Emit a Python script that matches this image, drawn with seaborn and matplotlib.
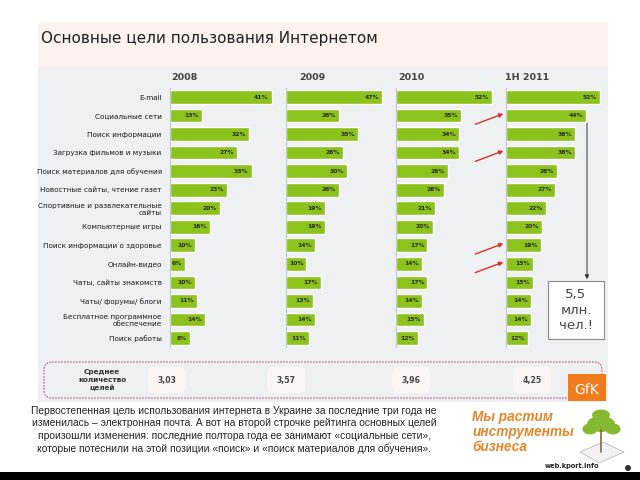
import numpy as np
import pandas as pd
import seaborn as sns
import matplotlib.pyplot as plt
from matplotlib.patches import FancyBboxPatch, Rectangle, Ellipse, Polygon

# data
categories = ['E-mail', 'Социальные сети', 'Поиск информации', 'Загрузка фильмов и музыки',
              'Поиск материалов для обучения', 'Новостные сайты, чтение газет',
              'Спортивные и развлекательные\nсайты', 'Компьютерные игры',
              'Поиск информации о здоровье', 'Онлайн-видео', 'Чаты, сайты знакомств',
              'Чаты/ форумы/ блоги', 'Бесплатное программное\nобеспечение', 'Поиск работы']
years = ['2008', '2009', '2010', '1H 2011']
share_2008 = [41, 13, 32, 27, 33, 23, 20, 16, 10, 6, 10, 11, 14, 8]
share_2009 = [47, 26, 35, 28, 30, 26, 19, 19, 14, 10, 17, 13, 14, 11]
share_2010 = [52, 35, 34, 34, 28, 26, 21, 20, 17, 14, 17, 14, 15, 12]
share_2011 = [52, 44, 38, 38, 28, 27, 22, 20, 19, 15, 15, 14, 14, 12]
avg_goals = ['3,03', '3,57', '3,96', '4,25']
arrow_rows = [1, 3, 8, 9]   # rows that moved up in 1H 2011

df = pd.DataFrame({
    'goal': categories * 4,
    'year': np.repeat(years, len(categories)),
    'share': share_2008 + share_2009 + share_2010 + share_2011,
})

sns.set_style('white')
plt.rcParams['font.family'] = ['DejaVu Sans']

green = '#8cc21c'
W, H = 640, 480

fig = plt.figure(figsize=(6.4, 4.8), dpi=100)
fig.patch.set_facecolor('white')

# background / decoration layer in pixel coords
bg = fig.add_axes([0, 0, 1, 1])
bg.set_xlim(0, W)
bg.set_ylim(H, 0)
bg.axis('off')

bg.add_patch(Rectangle((38, 22), 570, 46, color='#fcf3ef', lw=0))
bg.add_patch(Rectangle((38, 66), 570, 336, color='#eef0f1', lw=0))
bg.text(41, 38, 'Основные цели пользования Интернетом', fontsize=11, color='#222',
        va='center', ha='left')

# panels
row_top, row_step = 97, 18.54
ax_top = row_top - 0.5 * row_step
ax_h = 14 * row_step
lefts = [170, 286, 396, 506]
widths = [110, 104, 104, 102]
year_x = [184, 312, 411, 527]

axes = []
for k, yr in enumerate(years):
    sub = df[df['year'] == yr]
    ax = fig.add_axes([lefts[k] / W, 1 - (ax_top + ax_h) / H, widths[k] / W, ax_h / H])
    ax.patch.set_alpha(0)
    sns.barplot(data=sub, x='share', y='goal', color=green, width=0.74,
                saturation=1, ax=ax, orient='h')
    xmax = sub['share'].max() * 1.08
    ax.set_xlim(0, xmax)
    ax.set_ylim(len(categories) - 0.5, -0.5)
    for i, v in enumerate(sub['share']):
        ax.text(v - xmax * 0.03, i, f'{v}%', ha='right', va='center',
                fontsize=4.3, fontweight='bold', color='#2a2a2a')
    for s in ['top', 'right', 'bottom']:
        ax.spines[s].set_visible(False)
    ax.spines['left'].set_color('#c5c8ca')
    ax.spines['left'].set_linewidth(0.8)
    ax.set_xticks([])
    ax.set_xlabel('')
    ax.set_ylabel('')
    if k == 0:
        ax.tick_params(axis='y', length=0, pad=6, labelsize=5.2, labelcolor='#1a1a1a')
    else:
        ax.set_yticks([])
    bg.text(year_x[k], 78, yr, fontsize=6.8, fontweight='bold', color='#444',
            ha='center', va='center')
    axes.append(ax)

# red arrows pointing to the rows that moved up
ax11 = axes[3]
for r in arrow_rows:
    ax11.annotate('', xy=(0, r - 0.15), xytext=(-24, -9), textcoords='offset points',
                  annotation_clip=False,
                  arrowprops=dict(arrowstyle='-|>', color='#d9302a', lw=1.0,
                                  mutation_scale=6))

# black arrow from social networks bar to the callout box
bg.annotate('', xy=(587, 282), xytext=(587, 120),
            arrowprops=dict(arrowstyle='-|>', color='#333', lw=0.7, mutation_scale=6))
bg.add_patch(Rectangle((548, 281), 56, 58, facecolor='white', edgecolor='#888', lw=0.8))
bg.text(576, 310, '5,5\nмлн.\nчел.!', fontsize=9.5, color='#444', ha='center',
        va='center', linespacing=1.25)

# average number of goals row
bg.add_patch(FancyBboxPatch((44, 362), 558, 36, boxstyle='round,pad=0,rounding_size=8',
                            facecolor='#eef0f1', edgecolor='#c0507a', lw=0.8, ls=(0, (1.5, 1.2))))
bg.text(102, 380, 'Среднее\nколичество\nцелей', fontsize=5.2, fontweight='bold',
        color='#333', ha='center', va='center', linespacing=1.3)
value_x = [167, 286, 411, 532]
for vx, val in zip(value_x, avg_goals):
    bg.add_patch(FancyBboxPatch((vx - 19, 367), 38, 26, boxstyle='round,pad=0,rounding_size=6',
                                facecolor='#fbf6f3', edgecolor='none'))
    bg.text(vx, 380, val, fontsize=5.6, fontweight='bold', color='#444',
            ha='center', va='center')

# GfK logo
bg.add_patch(Rectangle((568, 374), 38, 27, color='#f07c1b', lw=0))
bg.text(587, 390, 'GfK', fontsize=10, color='white', ha='center', va='center')

# caption
caption = ('Первостепенная цель использования интернета в Украине за последние три года не\n'
           'изменилась – электронная почта. А вот на второй строчке рейтинга основных целей\n'
           'произошли изменения: последние полтора года ее занимают «социальные сети»,\n'
           'которые потеснили на этой позиции «поиск» и «поиск материалов для обучения».')
bg.text(234, 406, caption, fontsize=7.4, family=['Liberation Sans', 'DejaVu Sans'],
        color='#222', ha='center', va='top', linespacing=1.3)

# kport logo
bg.text(472, 410, 'Мы растим\nинструменты\nбизнеса', fontsize=9.8, fontweight='bold',
        fontstyle='italic', family=['Liberation Sans', 'DejaVu Sans'], color='#e4862a',
        ha='left', va='top', linespacing=1.1)
bg.text(545, 466, 'web.kport.info', fontsize=4.8, fontweight='bold', color='#222',
        ha='left', va='center')
bg.add_patch(Polygon([[580, 452], [603, 442], [624, 452], [599, 463]],
                     facecolor='#f2f2f2', edgecolor='#bbbbbb', lw=0.6))
bg.plot([601, 601], [452, 430], color='#7a6a4a', lw=1.2)
for ex, ey, ew, eh in [(601, 424, 28, 16), (590, 429, 15, 11), (613, 429, 15, 11), (601, 415, 18, 11)]:
    bg.add_patch(Ellipse((ex, ey), ew, eh, color='#86b832', lw=0))
bg.add_patch(Ellipse((628, 468), 6, 6, color='#333', lw=0))

# dark strip along the bottom
bg.add_patch(Rectangle((0, 472), W, 8, color='black', lw=0))

fig.savefig('out.png', dpi=100)
